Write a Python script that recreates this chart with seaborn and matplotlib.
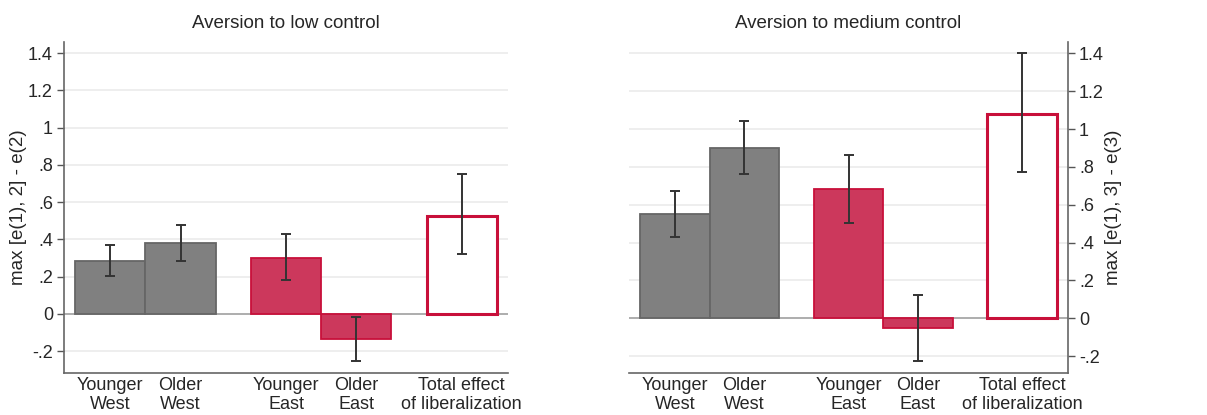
import numpy as np
import pandas as pd
import matplotlib
matplotlib.use("Agg")
import matplotlib.pyplot as plt
import seaborn as sns

# Groups and estimates
categories = ["Younger\nWest", "Older\nWest", "Younger\nEast", "Older\nEast",
              "Total effect\nof liberalization"]
groups = ["West", "West", "East", "East", "Total"]

low_est = [0.285, 0.381, 0.302, -0.135, 0.528]
low_lo = [0.203, 0.285, 0.181, -0.254, 0.320]
low_hi = [0.368, 0.479, 0.429, -0.014, 0.751]

med_est = [0.551, 0.898, 0.683, -0.053, 1.080]
med_lo = [0.429, 0.760, 0.506, -0.228, 0.775]
med_hi = [0.674, 1.041, 0.863, 0.121, 1.400]

yticks = [-0.2, 0, 0.2, 0.4, 0.6, 0.8, 1.0, 1.2, 1.4]
ytick_labels = ["-.2", "0", ".2", ".4", ".6", ".8", "1", "1.2", "1.4"]

sns.set_theme(style="white")
plt.rcParams["font.family"] = ["Liberation Sans", "DejaVu Sans"]

GRAY_FILL, GRAY_EDGE = "#808080", "#666666"
RED_FILL, RED_EDGE = "#CC385C", "#C8103A"
face_by_group = {"West": GRAY_FILL, "East": RED_FILL, "Total": "white"}
edge_by_group = {"West": GRAY_EDGE, "East": RED_EDGE, "Total": RED_EDGE}

# Bars sit side by side within a group, with half a bar of space between groups
group_index = pd.factorize(pd.Series(groups))[0]
positions = np.arange(len(categories)) + 0.5 * group_index


def panel(ax, est, lo, hi, title, ylabel, ylim, right):
    df = pd.DataFrame({"pos": positions, "est": est, "grp": groups})
    sns.barplot(data=df, x="pos", y="est", hue="grp", native_scale=True,
                width=1.0, dodge=False, legend=False,
                palette=face_by_group, ax=ax, saturation=1)
    for patch, g in zip(sorted(ax.patches, key=lambda p: p.get_x()), groups):
        patch.set_edgecolor(edge_by_group[g])
        patch.set_linewidth(2.2 if g == "Total" else 1.3)
        patch.set_zorder(2)
    est_a, lo_a, hi_a = map(np.asarray, (est, lo, hi))
    ax.errorbar(positions, est_a, yerr=[est_a - lo_a, hi_a - est_a], fmt="none",
                ecolor="#333333", elinewidth=1.4, capsize=3.5, capthick=1.4,
                zorder=4)
    ax.axhline(0, color="#A0A0A0", lw=1.2, zorder=1.9)
    for t in yticks:
        if t != 0:
            ax.axhline(t, color="#EBEBEB", lw=1.2, zorder=0)
    ax.set_ylim(*ylim)
    ax.set_xlim(positions[0] - 0.66, positions[-1] + 0.66)
    ax.set_yticks(yticks)
    ax.set_yticklabels(ytick_labels, fontsize=13)
    ax.set_xticks(positions)
    ax.set_xticklabels(categories, fontsize=13, linespacing=1.12)
    ax.tick_params(axis="x", length=0, pad=3)
    ax.tick_params(axis="y", length=5, width=1, color="#555555", pad=3,
                   left=not right, right=right, labelleft=not right,
                   labelright=right)
    ax.set_xlabel("")
    ax.set_ylabel(ylabel, fontsize=13.5, labelpad=1)
    if right:
        ax.yaxis.set_label_position("right")
    ax.set_title(title, fontsize=13.5, pad=10)
    for s in ["top", "left", "right", "bottom"]:
        ax.spines[s].set_visible(False)
    for s in ["bottom", "right" if right else "left"]:
        ax.spines[s].set_visible(True)
        ax.spines[s].set_color("#666666")
        ax.spines[s].set_linewidth(1.2)


fig = plt.figure(figsize=(12.07, 4.15), dpi=100)
ax1 = fig.add_axes([64 / 1207, 42 / 415, 444 / 1207, 331 / 415])
ax2 = fig.add_axes([629 / 1207, 42 / 415, 439 / 1207, 331 / 415])

panel(ax1, low_est, low_lo, low_hi, "Aversion to low control",
      "max [e(1), 2] - e(2)", (-0.317, 1.46), right=False)
panel(ax2, med_est, med_lo, med_hi, "Aversion to medium control",
      "max [e(1), 3] - e(3)", (-0.289, 1.46), right=True)

fig.savefig("out.png", dpi=100, facecolor="white")
